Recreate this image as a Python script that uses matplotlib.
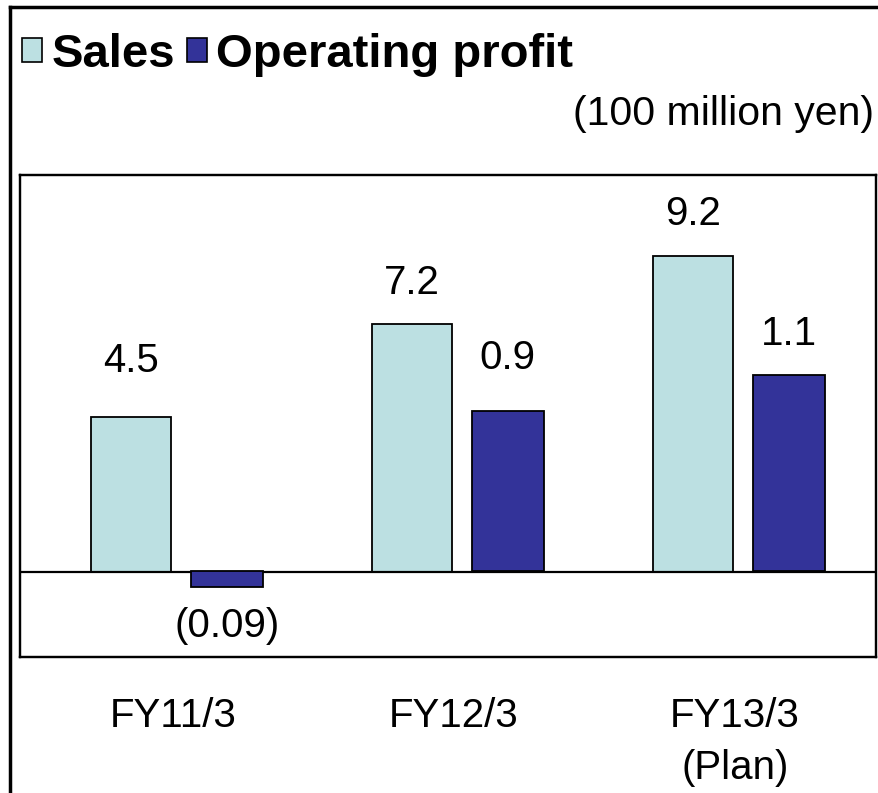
import matplotlib
matplotlib.use("Agg")
import matplotlib.pyplot as plt
from matplotlib.patches import Patch
from matplotlib.lines import Line2D
import numpy as np

plt.rcParams['font.family'] = ['Liberation Sans', 'DejaVu Sans']

categories = ["FY11/3", "FY12/3", "FY13/3\n(Plan)"]
sales = [4.5, 7.2, 9.2]
op_profit = [-0.09, 0.9, 1.1]
sales_labels = ["4.5", "7.2", "9.2"]
op_labels = ["(0.09)", "0.9", "1.1"]

sales_color = "#BCE0E2"
op_color = "#333399"

W, H = 879, 793
fig = plt.figure(figsize=(W / 100, H / 100), dpi=100)

# plot box in pixel coords -> figure fractions
left, right, top, bottom = 20, 876, 175, 657
ax = fig.add_axes([left / W, 1 - bottom / H, (right - left) / W, (bottom - top) / H])
ax2 = ax.twinx()

x = np.arange(len(categories))
xs = x - 0.148
xo = x + 0.192
ax.bar(xs, sales, width=0.285, color=sales_color, edgecolor="black", linewidth=1.3, zorder=2)
ax2.bar(xo, op_profit, width=0.255, color=op_color, edgecolor="black", linewidth=1.3, zorder=2)

ax.set_xlim(-0.544, 2.502)
ax.set_ylim(-2.47, 11.54)
ax2.set_ylim(-0.48, 2.22)
ax.axhline(0, color="black", linewidth=1.6, zorder=3)

# label gap above bars (points); the first two sit a bit higher in the original
sales_pad = [27, 16, 16]
op_pad = [-14, 24, 16]
for xi, v, lab, p in zip(xs, sales, sales_labels, sales_pad):
    ax.annotate(lab, (xi, v), xytext=(0, p), textcoords="offset points",
                ha="center", va="bottom", fontsize=29)
for xi, v, lab, p in zip(xo, op_profit, op_labels, op_pad):
    ax2.annotate(lab, (xi, v), xytext=(0, p), textcoords="offset points",
                 ha="center", va="top" if v < 0 else "bottom", fontsize=29)

ax.set_xticks(x)
ax.set_xticklabels(categories, fontsize=29, linespacing=1.45)
ax.tick_params(axis="x", length=0, pad=29)
ax.set_yticks([])
ax2.set_yticks([])
for a in (ax, ax2):
    for s in a.spines.values():
        s.set_linewidth(1.6)

fig.text(874 / W, 1 - 114 / H, "(100 million yen)", ha="right", va="center", fontsize=29.5)

handles = [Patch(facecolor=sales_color, edgecolor="black", linewidth=1.2),
           Patch(facecolor=op_color, edgecolor="black", linewidth=1.2)]
fig.legend(handles, ["Sales", "Operating profit"], loc="upper left",
           bbox_to_anchor=(22 / W, 1 - 33 / H), ncol=2, frameon=False,
           prop={"weight": "bold", "size": 34}, handlelength=0.42, handleheight=0.42,
           handletextpad=0.2, columnspacing=0.25, borderpad=0, borderaxespad=0)

# outer frame lines (top and left)
fig.add_artist(Line2D([10 / W, 1], [1 - 7 / H, 1 - 7 / H], color="black", linewidth=2.5,
                      transform=fig.transFigure))
fig.add_artist(Line2D([10 / W, 10 / W], [0, 1 - 7 / H], color="black", linewidth=2.5,
                      transform=fig.transFigure))

fig.savefig("out.png", dpi=100)
